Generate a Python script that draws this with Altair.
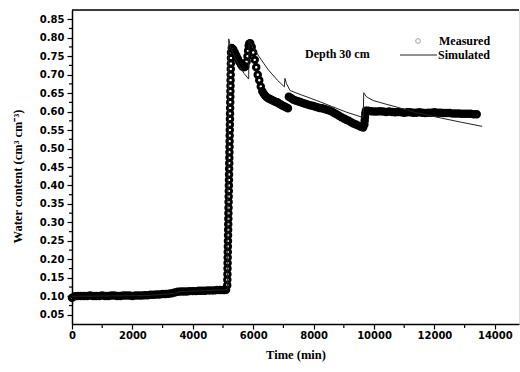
import altair as alt
import pandas as pd

# ---- Measured (open circles) ----
meas_t = [0, 100, 200, 300, 400, 500, 600, 700, 800, 900, 1000, 1100, 1200, 1300, 1400, 1500,
          1600, 1700, 1800, 1900, 2000, 2100, 2200, 2300, 2400, 2500, 2600, 2700, 2800, 2900,
          3000, 3100, 3200, 3300, 3400, 3500, 3600, 3700, 3800, 3900, 4000, 4100, 4200, 4300,
          4400, 4500, 4600, 4700, 4800, 4900, 5000, 5060, 5100,
          5140, 5143, 5146, 5149, 5152, 5155, 5158, 5161, 5164, 5167, 5170, 5173, 5176, 5179,
          5182, 5185, 5188, 5191, 5194, 5197, 5200, 5203, 5206, 5209, 5212, 5215, 5218, 5221,
          5224, 5227, 5230, 5233, 5236, 5239, 5242, 5245, 5248, 5251, 5254, 5257, 5260, 5263, 5266,
          5290, 5340, 5390, 5440, 5490, 5540, 5590, 5640, 5690, 5740, 5780, 5810, 5830, 5850,
          5870, 5900, 5950, 6000, 6050, 6100, 6150, 6200, 6250, 6300, 6350, 6400, 6450, 6500,
          6550, 6600, 6650, 6700, 6750, 6800, 6850, 6900, 6950, 7000, 7050, 7100, 7150,
          7180, 7250, 7320, 7400, 7480, 7560, 7640, 7720, 7800, 7880, 7960, 8040, 8120, 8200,
          8280, 8360, 8440, 8520, 8600, 8680, 8760, 8840, 8920, 9000, 9080, 9160, 9240, 9320,
          9400, 9480, 9560, 9640, 9680, 9690, 9700, 9710, 9730,
          9800, 9900, 10000, 10100, 10200, 10300, 10400, 10500, 10600, 10700, 10800, 10900,
          11000, 11100, 11200, 11300, 11400, 11500, 11600, 11700, 11800, 11900, 12000, 12100,
          12200, 12300, 12400, 12500, 12600, 12700, 12800, 12900, 13000, 13100, 13200, 13300, 13400]
meas_v = [0.096, 0.100, 0.101, 0.101, 0.101, 0.101, 0.102, 0.101, 0.101, 0.101, 0.102, 0.101,
          0.101, 0.102, 0.102, 0.101, 0.101, 0.102, 0.102, 0.102, 0.101, 0.102, 0.102, 0.102,
          0.103, 0.103, 0.104, 0.104, 0.105, 0.105, 0.106, 0.106, 0.107, 0.108, 0.110, 0.112,
          0.113, 0.113, 0.113, 0.114, 0.114, 0.114, 0.115, 0.115, 0.115, 0.116, 0.116, 0.116,
          0.117, 0.117, 0.117, 0.117, 0.118,
          0.13, 0.145, 0.16, 0.175, 0.19, 0.205, 0.22, 0.235, 0.25, 0.265, 0.28, 0.295, 0.31,
          0.325, 0.34, 0.355, 0.37, 0.385, 0.40, 0.415, 0.43, 0.445, 0.46, 0.475, 0.49, 0.505,
          0.52, 0.535, 0.55, 0.565, 0.58, 0.595, 0.61, 0.625, 0.64, 0.655, 0.67, 0.685, 0.70,
          0.715, 0.73, 0.745, 0.76,
          0.772, 0.768, 0.760, 0.752, 0.743, 0.735, 0.728, 0.722, 0.720, 0.722, 0.735, 0.750,
          0.765, 0.778, 0.784, 0.785, 0.775, 0.760, 0.740, 0.720, 0.700, 0.685, 0.668, 0.655,
          0.648, 0.643, 0.639, 0.636, 0.634, 0.632, 0.630, 0.628, 0.626, 0.625, 0.622, 0.620,
          0.617, 0.615, 0.613, 0.611, 0.609,
          0.640, 0.637, 0.633, 0.630, 0.628, 0.626, 0.623, 0.621, 0.619, 0.617, 0.616, 0.614,
          0.612, 0.610, 0.609, 0.607, 0.605, 0.603, 0.600, 0.596, 0.593, 0.589, 0.585, 0.581,
          0.578, 0.575, 0.571, 0.568, 0.565, 0.562, 0.559, 0.557, 0.565, 0.575, 0.585, 0.595, 0.602,
          0.602, 0.601, 0.600, 0.600, 0.601, 0.600, 0.599, 0.600, 0.599, 0.598, 0.599, 0.598,
          0.597, 0.598, 0.598, 0.597, 0.597, 0.598, 0.597, 0.596, 0.597, 0.597, 0.598, 0.597,
          0.597, 0.596, 0.596, 0.596, 0.595, 0.595, 0.595, 0.594, 0.594, 0.594, 0.594, 0.593, 0.593]

# ---- Simulated (line) ----
sim_t = [0, 2500, 3400, 3600, 5000, 5150, 5190, 5260, 5400, 5550, 5700, 5850, 5860, 5920,
         6000, 6200, 6500, 6800, 7030, 7050, 7100, 7220, 7600, 8100, 8600, 9100, 9640, 9660,
         9750, 9970, 10400, 10760, 11350, 12190, 12900, 13580]
sim_v = [0.100, 0.102, 0.108, 0.113, 0.117, 0.119, 0.797, 0.770, 0.745, 0.722, 0.703, 0.688,
         0.795, 0.786, 0.773, 0.748, 0.713, 0.685, 0.667, 0.690, 0.676, 0.657, 0.645, 0.630,
         0.614, 0.598, 0.584, 0.651, 0.640, 0.630, 0.620, 0.612, 0.598, 0.583, 0.571, 0.560]

x_major = [0, 2000, 4000, 6000, 8000, 10000, 12000, 14000]
x_minor = [1000, 3000, 5000, 7000, 9000, 11000, 13000]
y_major = [0.05, 0.10, 0.15, 0.20, 0.25, 0.30, 0.35, 0.40, 0.45, 0.50, 0.55, 0.60, 0.65,
           0.70, 0.75, 0.80, 0.85]
y_minor = [0.075, 0.125, 0.175, 0.225, 0.275, 0.325, 0.375, 0.425, 0.475, 0.525, 0.575,
           0.625, 0.675, 0.725, 0.775, 0.825]

legend_labels = ["Measured", "Simulated"]
annotation = ["Depth 30 cm"]

W, H = 447, 314
serif = "Liberation Serif"
sans = "DejaVu Sans"

xscale = alt.Scale(domain=[0, 14800], nice=False, zero=False)
yscale = alt.Scale(domain=[0.025, 0.875], nice=False, zero=False)

xaxis = alt.Axis(values=x_major, format="d", title="Time (min)", grid=False,
                 labelFont=sans, labelFontWeight="bold", labelFontSize=10, labelColor="black",
                 labelPadding=1, tickSize=5, tickWidth=1.2, tickColor="black",
                 domainColor="black", domainWidth=1.5, titleFont=serif, titleFontWeight="bold",
                 titleFontSize=12.5, titleColor="black", titleY=34, titleBaseline="alphabetic",
                 labelFlush=False)
yaxis = alt.Axis(values=y_major, format=".2f", title="Water content (cm³ cm⁻³)", grid=False,
                 labelFont=sans, labelFontWeight="bold", labelFontSize=10, labelColor="black",
                 labelPadding=3, tickSize=5, tickWidth=1.2, tickColor="black",
                 domainColor="black", domainWidth=1.5, titleFont=serif, titleFontWeight="bold",
                 titleFontSize=12.5, titleColor="black", titleX=-48, titleY=166,
                 labelFlush=False)

X = alt.X("t:Q", scale=xscale, axis=xaxis)
Y = alt.Y("v:Q", scale=yscale, axis=yaxis)

meas_df = pd.DataFrame({"t": meas_t, "v": meas_v})
sim_df = pd.DataFrame({"t": sim_t, "v": sim_v})

points = alt.Chart(meas_df).mark_point(shape="circle", filled=False, color="black",
                                        size=30, strokeWidth=3, opacity=1).encode(x=X, y=Y)
line = alt.Chart(sim_df).mark_line(color="#222222", strokeWidth=1).encode(x=X, y=Y)

xminor = alt.Chart(pd.DataFrame({"t": x_minor})).mark_rule(color="black", strokeWidth=1.2).encode(
    x=X, y=alt.value(H), y2=alt.value(H + 4))
yminor = alt.Chart(pd.DataFrame({"v": y_minor})).mark_rule(color="black", strokeWidth=1.2).encode(
    y=Y, x=alt.value(0), x2=alt.value(-3))

top = alt.Chart(pd.DataFrame({"a": [0]})).mark_rule(color="black", strokeWidth=1.5).encode(
    x=alt.value(0), x2=alt.value(W), y=alt.value(0))

leg_sym = alt.Chart(pd.DataFrame({"a": [0]})).mark_point(
    shape="circle", filled=False, color="#777777", size=22, strokeWidth=1).encode(
    x=alt.value(346), y=alt.value(31))
leg_line = alt.Chart(pd.DataFrame({"a": [0]})).mark_rule(color="#222222", strokeWidth=1).encode(
    x=alt.value(328), x2=alt.value(365), y=alt.value(45))
leg_txt1 = alt.Chart(pd.DataFrame({"label": [legend_labels[0]]})).mark_text(
    font=serif, fontWeight="bold", fontSize=12, align="left", baseline="middle", color="black").encode(
    text="label:N", x=alt.value(367), y=alt.value(31))
leg_txt2 = alt.Chart(pd.DataFrame({"label": [legend_labels[1]]})).mark_text(
    font=serif, fontWeight="bold", fontSize=12, align="left", baseline="middle", color="black").encode(
    text="label:N", x=alt.value(366), y=alt.value(45))
depth = alt.Chart(pd.DataFrame({"label": annotation})).mark_text(
    font=serif, fontWeight="bold", fontSize=12, align="left", baseline="middle", color="black").encode(
    text="label:N", x=alt.value(233), y=alt.value(44))

chart = alt.layer(points, line, xminor, yminor, top, leg_sym, leg_line, leg_txt1, leg_txt2, depth).properties(
    width=W, height=H,
    autosize=alt.AutoSizeParams(type="none"),
    padding={"left": 72, "top": 10, "right": 1, "bottom": 48},
).configure_view(stroke=None).configure(background="white")

chart.save("out.html", embed_options={"renderer": "svg", "actions": False})
